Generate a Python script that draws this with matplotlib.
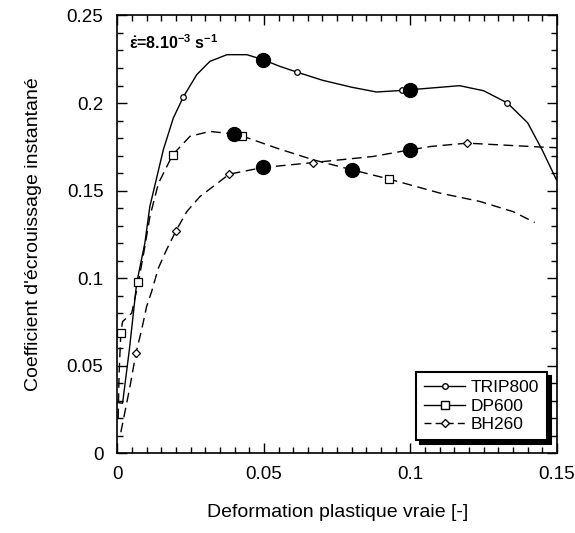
import matplotlib
matplotlib.use("Agg")
import matplotlib.pyplot as plt
from matplotlib.lines import Line2D
from matplotlib.ticker import MultipleLocator, FuncFormatter

plt.rcParams["font.family"] = ["Liberation Sans", "DejaVu Sans"]
plt.rcParams["mathtext.fontset"] = "custom"
plt.rcParams["mathtext.rm"] = "Liberation Sans"
plt.rcParams["mathtext.bf"] = "Liberation Sans:bold"

# TRIP800 (solid line)
trip_x = [0.0, 0.0018, 0.0041, 0.0066, 0.0094, 0.0111, 0.0157, 0.0191, 0.0225,
          0.0271, 0.0316, 0.0374, 0.0442, 0.0498, 0.0555, 0.0612, 0.07, 0.08,
          0.0884, 0.0972, 0.1, 0.1168, 0.125, 0.1331, 0.14, 0.145, 0.1498]
trip_y = [0.029, 0.0286, 0.059, 0.0971, 0.12, 0.1409, 0.1733, 0.1914, 0.2034,
          0.2162, 0.2238, 0.2276, 0.2276, 0.2247, 0.2209, 0.2177, 0.213, 0.209,
          0.2063, 0.2072, 0.2076, 0.2099, 0.207, 0.2, 0.1887, 0.173, 0.1562]
trip_mx = [0.0225, 0.0612, 0.0972, 0.1331]
trip_my = [0.2034, 0.2177, 0.2072, 0.2]

# DP600 (dashed)
dp_x = [0.0003, 0.0006, 0.0012, 0.0018, 0.0049, 0.0072, 0.0094, 0.0111, 0.014,
        0.0189, 0.0248, 0.0316, 0.0398, 0.0424, 0.0543, 0.0668, 0.08, 0.0927,
        0.11, 0.1237, 0.135, 0.1424]
dp_y = [0.02, 0.045, 0.0686, 0.0752, 0.08, 0.0977, 0.118, 0.135, 0.154,
        0.1705, 0.181, 0.1838, 0.1823, 0.1813, 0.1743, 0.1676, 0.1619, 0.1566,
        0.1486, 0.1438, 0.138, 0.1318]
dp_mx = [0.0012, 0.0072, 0.0189, 0.0424, 0.0927]
dp_my = [0.0686, 0.0977, 0.1705, 0.1813, 0.1566]

# BH260 (dashed)
bh_x = [0.0012, 0.0032, 0.0043, 0.0064, 0.0083, 0.01, 0.0117, 0.014, 0.0168,
        0.02, 0.0237, 0.0282, 0.0382, 0.0498, 0.0589, 0.0668, 0.0873, 0.1,
        0.107, 0.1193, 0.1441, 0.15]
bh_y = [0.012, 0.0286, 0.038, 0.0575, 0.0705, 0.0838, 0.0923, 0.1057, 0.1162,
        0.127, 0.138, 0.1466, 0.1594, 0.1632, 0.1647, 0.166, 0.1695, 0.1733,
        0.1752, 0.1771, 0.1749, 0.1745]
bh_mx = [0.0064, 0.02, 0.0382, 0.0668, 0.1193]
bh_my = [0.0575, 0.127, 0.1594, 0.166, 0.1771]

# large filled points
dot_x = [0.0398, 0.0498, 0.0498, 0.08, 0.1, 0.1]
dot_y = [0.1823, 0.2247, 0.1632, 0.1619, 0.2076, 0.1733]

fig = plt.figure(figsize=(5.75, 5.33), dpi=100)
ax = fig.add_axes([0.204, 0.1495, 0.7647, 0.8215])

dash = (0, (7, 4))
ax.plot(trip_x, trip_y, color="black", lw=1.0)
ax.plot(trip_mx, trip_my, ls="none", marker="o", ms=4, mfc="white", mec="black", mew=0.9)
ax.plot(dp_x, dp_y, color="black", lw=1.0, ls=dash)
ax.plot(dp_mx, dp_my, ls="none", marker="s", ms=6, mfc="white", mec="black", mew=0.9)
ax.plot(bh_x, bh_y, color="black", lw=1.0, ls=dash)
ax.plot(bh_mx, bh_my, ls="none", marker="D", ms=4.5, mfc="white", mec="black", mew=0.9)
ax.plot(dot_x, dot_y, ls="none", marker="o", ms=10, color="black")

ax.set_xlim(0, 0.15)
ax.set_ylim(0, 0.25)
ax.xaxis.set_major_locator(MultipleLocator(0.05))
ax.xaxis.set_minor_locator(MultipleLocator(0.005))
ax.yaxis.set_major_locator(MultipleLocator(0.05))
ax.yaxis.set_minor_locator(MultipleLocator(0.01))
fmt = FuncFormatter(lambda v, p: "%g" % round(v, 3))
ax.xaxis.set_major_formatter(fmt)
ax.yaxis.set_major_formatter(fmt)
ax.tick_params(which="both", direction="in", top=True, right=True, labelsize=13.5, width=1)
ax.tick_params(which="major", length=7)
ax.tick_params(axis="y", which="major", pad=10)
ax.tick_params(axis="x", which="major", pad=9)
ax.tick_params(which="minor", length=4)
for s in ax.spines.values():
    s.set_linewidth(1.2)

ax.set_xlabel("Deformation plastique vraie [-]", fontsize=14, labelpad=15)
ax.set_ylabel("Coefficient d'écrouissage instantané", fontsize=14, labelpad=18)

ax.text(0.004, 0.2345, r"$\mathbf{\dot{\varepsilon}}$=8.10$^{\mathbf{-3}}$ s$^{\mathbf{-1}}$",
        fontsize=11.5, fontweight="bold", va="center")

handles = [
    Line2D([], [], color="black", lw=1.0, marker="o", ms=4, mfc="white", mec="black"),
    Line2D([], [], color="black", lw=1.0, marker="s", ms=6, mfc="white", mec="black"),
    Line2D([], [], color="black", lw=1.0, ls=(0, (5, 3)), marker="D", ms=4.5, mfc="white", mec="black"),
]
leg = ax.legend(handles, ["TRIP800", "DP600", "BH260"], loc="lower right",
                bbox_to_anchor=(0.977, 0.03), fontsize=12.5, frameon=True,
                fancybox=False, edgecolor="black", framealpha=1,
                shadow={"color": "black", "alpha": 1, "ox": 3, "oy": -3},
                handlelength=2.4, handletextpad=0.3, labelspacing=0.2,
                borderpad=0.45, borderaxespad=0)
leg.get_frame().set_linewidth(1.5)

fig.savefig("out.png", dpi=100)
